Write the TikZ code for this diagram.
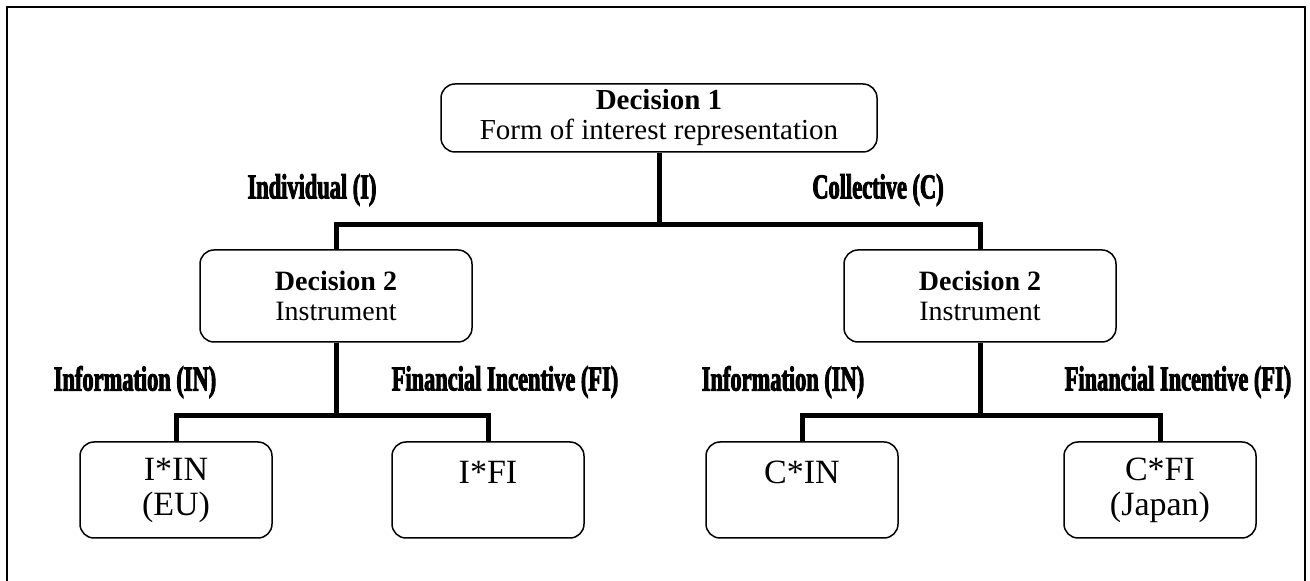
\documentclass[tikz,border=0pt]{standalone}
\usepackage{fontspec}
\setmainfont{Liberation Serif}
\newfontfamily\lblfont[FakeStretch=0.64, FakeBold=2.5]{Liberation Serif}
\begin{document}
\begin{tikzpicture}[x=0.5pt, y=-0.5pt,
box/.style={draw, line width=0.75pt, rounded corners=7pt, align=center, inner sep=0pt},
top/.style={box, minimum width=218pt, minimum height=34pt, font=\fontsize{14.5}{15}\selectfont},
mid/.style={box, minimum width=136pt, minimum height=46pt, font=\fontsize{14}{15}\selectfont},
leaf/.style={box, minimum width=96pt, minimum height=48pt, font=\fontsize{17}{17.5}\selectfont},
branch/.style={font=\fontsize{17.5}{17.5}\lblfont\bfseries},
link/.style={line width=2.5pt}]
\useasboundingbox (0,0) rectangle (1310,581);
\draw[line width=1pt] (7,620) -- (7,7) -- (1305,7) -- (1305,620);
\node[top] (dec1) at (659,118) {\textbf{Decision 1}\\Form of interest representation};
\node[mid] (dec2i) at (336,296) {\textbf{Decision 2}\\Instrument};
\node[mid] (dec2c) at (980,296) {\textbf{Decision 2}\\Instrument};
\node[leaf] (iin) at (176,490) {I*IN\\(EU)};
\node[leaf] (ifi) at (488,490) {I*FI\\\mbox{}};
\node[leaf] (cin) at (802,490) {C*IN\\\mbox{}};
\node[leaf] (cfi) at (1160,490) {C*FI\\(Japan)};
\coordinate (fork1) at (659,225);
\coordinate (forki) at (336,416);
\coordinate (forkc) at (980,416);
\draw[link] (dec1.south) -- (fork1);
\draw[link] (dec2i.north) |- (fork1) -| (dec2c.north);
\draw[link] (dec2i.south) -- (forki);
\draw[link] (iin.north) |- (forki) -| (ifi.north);
\draw[link] (dec2c.south) -- (forkc);
\draw[link] (cin.north) |- (forkc) -| (cfi.north);
\node[branch] (indiv) at (312,190) {Individual (I)};
\node[branch] (coll) at (878,190) {Collective (C)};
\node[branch] (infoi) at (135,382) {Information (IN)};
\node[branch] (fini) at (505,382) {Financial Incentive (FI)};
\node[branch] (infoc) at (783,382) {Information (IN)};
\node[branch] (finc) at (1178,382) {Financial Incentive (FI)};
\end{tikzpicture}
\end{document}
